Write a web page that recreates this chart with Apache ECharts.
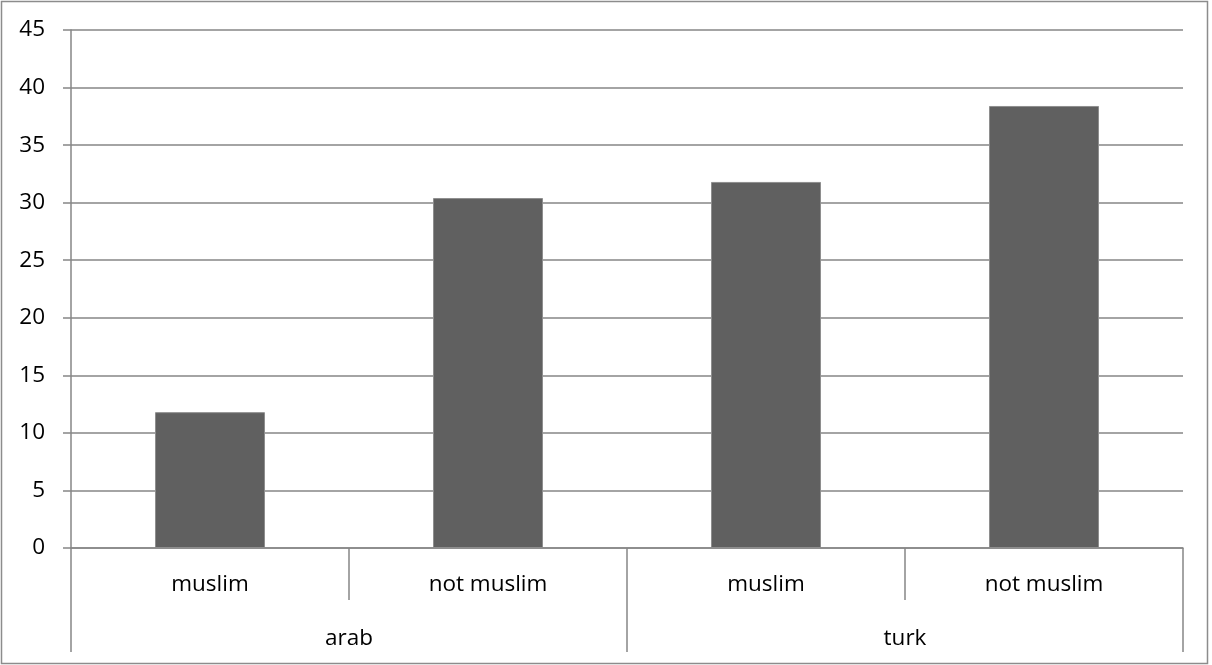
<!DOCTYPE html>
<html>
<head>
<meta charset="utf-8">
<script src="https://cdn.jsdelivr.net/npm/echarts@6/dist/echarts.min.js"></script>
<style>
html,body{margin:0;padding:0;background:#fff;}
#chart{width:1212px;height:665px;}
</style>
</head>
<body>
<div id="chart"></div>
<script>
const subCategories = ['muslim', 'not muslim', 'muslim', 'not muslim'];
const groups = ['arab', 'turk'];
const values = [11.8, 30.4, 31.8, 38.4];
const yTicks = { min: 0, max: 45, interval: 5 };

const font = 'Open Sans';
const gray = '#868686';
const chart = echarts.init(document.getElementById('chart'));
chart.setOption({
  animation: false,
  backgroundColor: '#ffffff',
  graphic: [{
    type: 'rect',
    shape: { x: 1.5, y: 1.5, width: 1206, height: 662 },
    style: { fill: 'none', stroke: '#8c8c8c', lineWidth: 1.5 },
    silent: true
  }],
  grid: { left: 71, right: 29, top: 30, bottom: 117 },
  xAxis: [{
    type: 'category',
    data: subCategories,
    position: 'bottom',
    axisLine: { show: true, lineStyle: { color: gray, width: 1.5 } },
    axisTick: { show: true, length: 52, lineStyle: { color: gray, width: 1.5 } },
    axisLabel: { color: '#000', fontFamily: font, fontSize: 22.5, margin: 25 },
    splitLine: { show: false }
  }, {
    type: 'category',
    data: groups,
    position: 'bottom',
    axisLine: { show: false },
    axisTick: { show: true, length: 104, lineStyle: { color: gray, width: 1.5 } },
    axisLabel: { color: '#000', fontFamily: font, fontSize: 22.5, margin: 79 },
    splitLine: { show: false }
  }],
  yAxis: {
    type: 'value',
    min: yTicks.min, max: yTicks.max, interval: yTicks.interval,
    axisLine: { show: true, lineStyle: { color: gray, width: 1.5 } },
    axisTick: { show: true, length: 8, lineStyle: { color: gray, width: 1.5 } },
    axisLabel: { color: '#000', fontFamily: font, fontSize: 22.5, margin: 26 },
    splitLine: { show: true, lineStyle: { color: gray, width: 1.5 } }
  },
  series: [{
    type: 'bar',
    xAxisIndex: 0,
    data: values,
    barWidth: 110,
    itemStyle: { color: '#606060', borderColor: '#8e8e8e', borderWidth: 1 }
  }]
});
</script>
</body>
</html>
